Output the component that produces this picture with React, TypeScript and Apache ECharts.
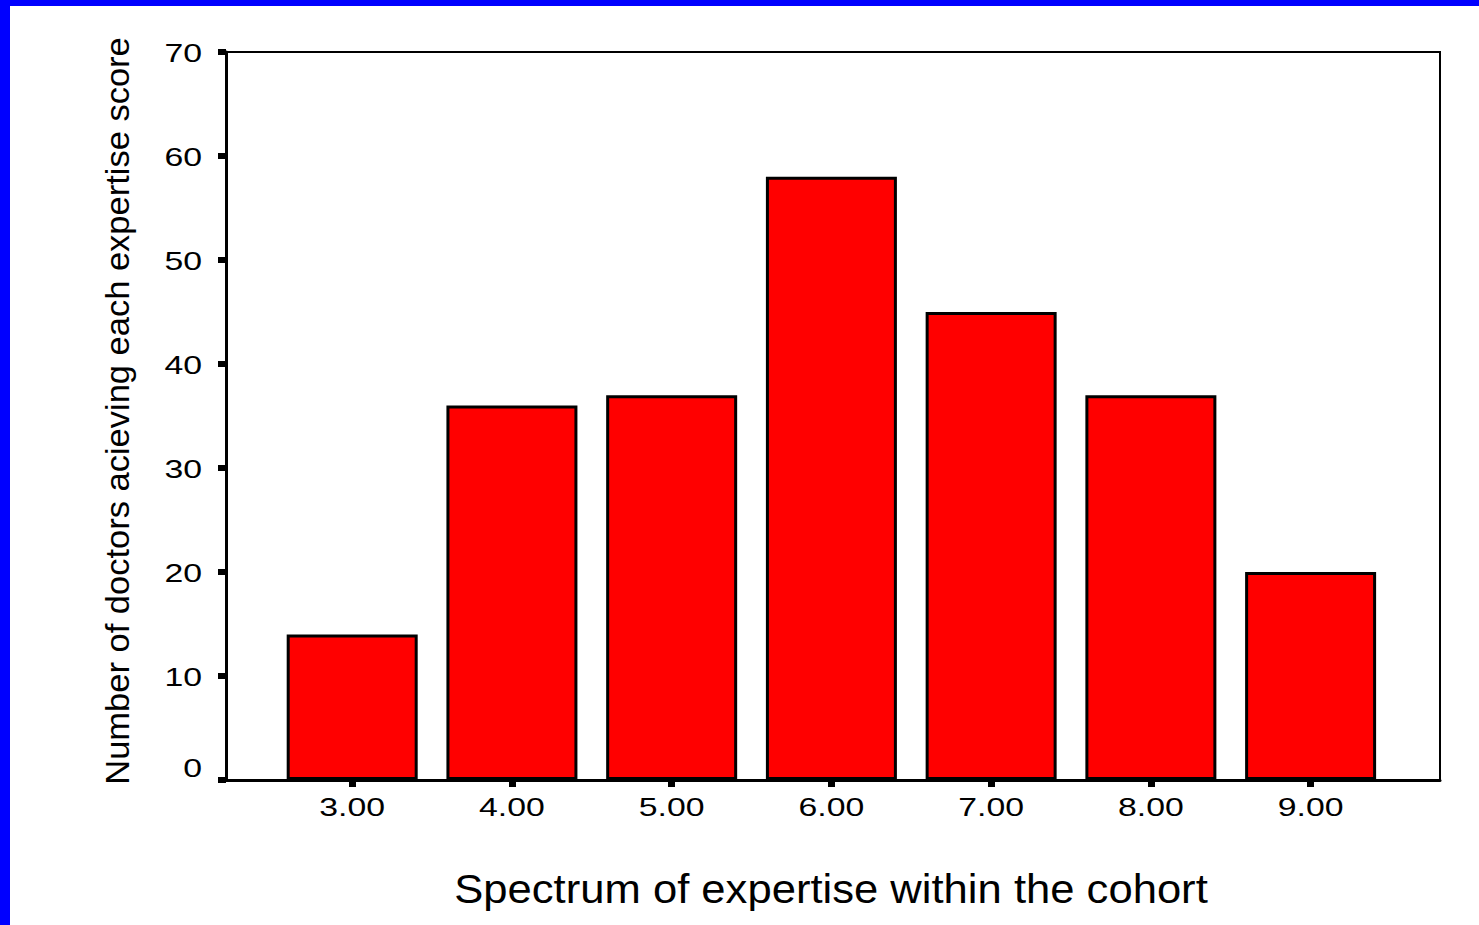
import React, { useEffect, useRef } from "react";
import * as echarts from "echarts";

const scores = [3, 4, 5, 6, 7, 8, 9];
const counts = [14, 36, 37, 58, 45, 37, 20];
const yTicks = [0, 10, 20, 30, 40, 50, 60, 70];
const xTitle = "Spectrum of expertise within the cohort";
const yTitle = "Number of doctors acieving each expertise score";

export default function App() {
  const ref = useRef<HTMLDivElement>(null);
  useEffect(() => {
    document.body.style.margin = "0";
    const chart = echarts.init(ref.current!, null, { renderer: "svg" });
    const font = "'Liberation Sans', Arial, sans-serif";
    chart.setOption({
      animation: false,
      backgroundColor: "#ffffff",
      grid: {
        left: 226,
        top: 52,
        right: 39,
        bottom: 145,
        show: true,
        borderColor: "#000",
        borderWidth: 2,
        backgroundColor: "transparent",
      },
      xAxis: {
        type: "value",
        min: 2.21,
        max: 9.81,
        splitLine: { show: false },
        axisLine: { show: true, onZero: false, lineStyle: { color: "#000", width: 3 } },
        axisTick: {
          show: true,
          customValues: scores,
          length: 7,
          lineStyle: { color: "#000", width: 7 },
        },
        axisLabel: { show: false },
      },
      yAxis: {
        type: "value",
        min: 0,
        max: 70,
        interval: 10,
        splitLine: { show: false },
        axisLine: { show: true, lineStyle: { color: "#000", width: 3 } },
        axisTick: { show: true, length: 8, lineStyle: { color: "#000", width: 6 } },
        axisLabel: { show: false },
      },
      graphic: [
        { id: "bl", type: "rect", shape: { x: 0, y: 0, width: 10, height: 925 }, style: { fill: "#0000ff" }, z: 100 },
        { id: "bt", type: "rect", shape: { x: 0, y: 0, width: 1479, height: 6 }, style: { fill: "#0000ff" }, z: 100 },
        {
          id: "xt",
          type: "text",
          x: 831,
          y: 889,
          scaleX: 1.09,
          style: {
            text: xTitle,
            fontFamily: font,
            fontSize: 40,
            fill: "#000",
            textAlign: "center",
            textVerticalAlign: "middle",
          },
        },
        {
          id: "yt",
          type: "text",
          x: 117,
          y: 411,
          rotation: Math.PI / 2,
          scaleX: 1.045,
          style: {
            text: yTitle,
            fontFamily: font,
            fontSize: 33,
            fill: "#000",
            textAlign: "center",
            textVerticalAlign: "middle",
          },
        },
      ],
      series: [
        {
          type: "bar",
          data: scores.map((s, i) => [s, counts[i]]),
          barWidth: 131,
          itemStyle: { color: "#ff0000", borderColor: "#000", borderWidth: 3 },
        },
      ],
    });

    const labels: any[] = [];
    scores.forEach((s, i) => {
      const p = chart.convertToPixel({ xAxisIndex: 0, yAxisIndex: 0 }, [s, 0]) as number[];
      labels.push({
        id: "xl" + i,
        type: "text",
        x: p[0],
        y: p[1] + 27,
        scaleX: 1.3,
        style: {
          text: s.toFixed(2),
          fontFamily: font,
          fontSize: 26,
          fill: "#000",
          textAlign: "center",
          textVerticalAlign: "middle",
        },
      });
    });
    yTicks.forEach((v, i) => {
      const p = chart.convertToPixel({ xAxisIndex: 0, yAxisIndex: 0 }, [2.21, v]) as number[];
      labels.push({
        id: "yl" + i,
        type: "text",
        x: p[0] - 24,
        y: p[1] + (v === 0 ? -12 : 1),
        scaleX: 1.3,
        style: {
          text: String(v),
          fontFamily: font,
          fontSize: 26,
          fill: "#000",
          textAlign: "right",
          textVerticalAlign: "middle",
        },
      });
    });
    chart.setOption({ graphic: labels });
    return () => chart.dispose();
  }, []);
  return <div ref={ref} style={{ width: 1479, height: 925 }} />;
}
